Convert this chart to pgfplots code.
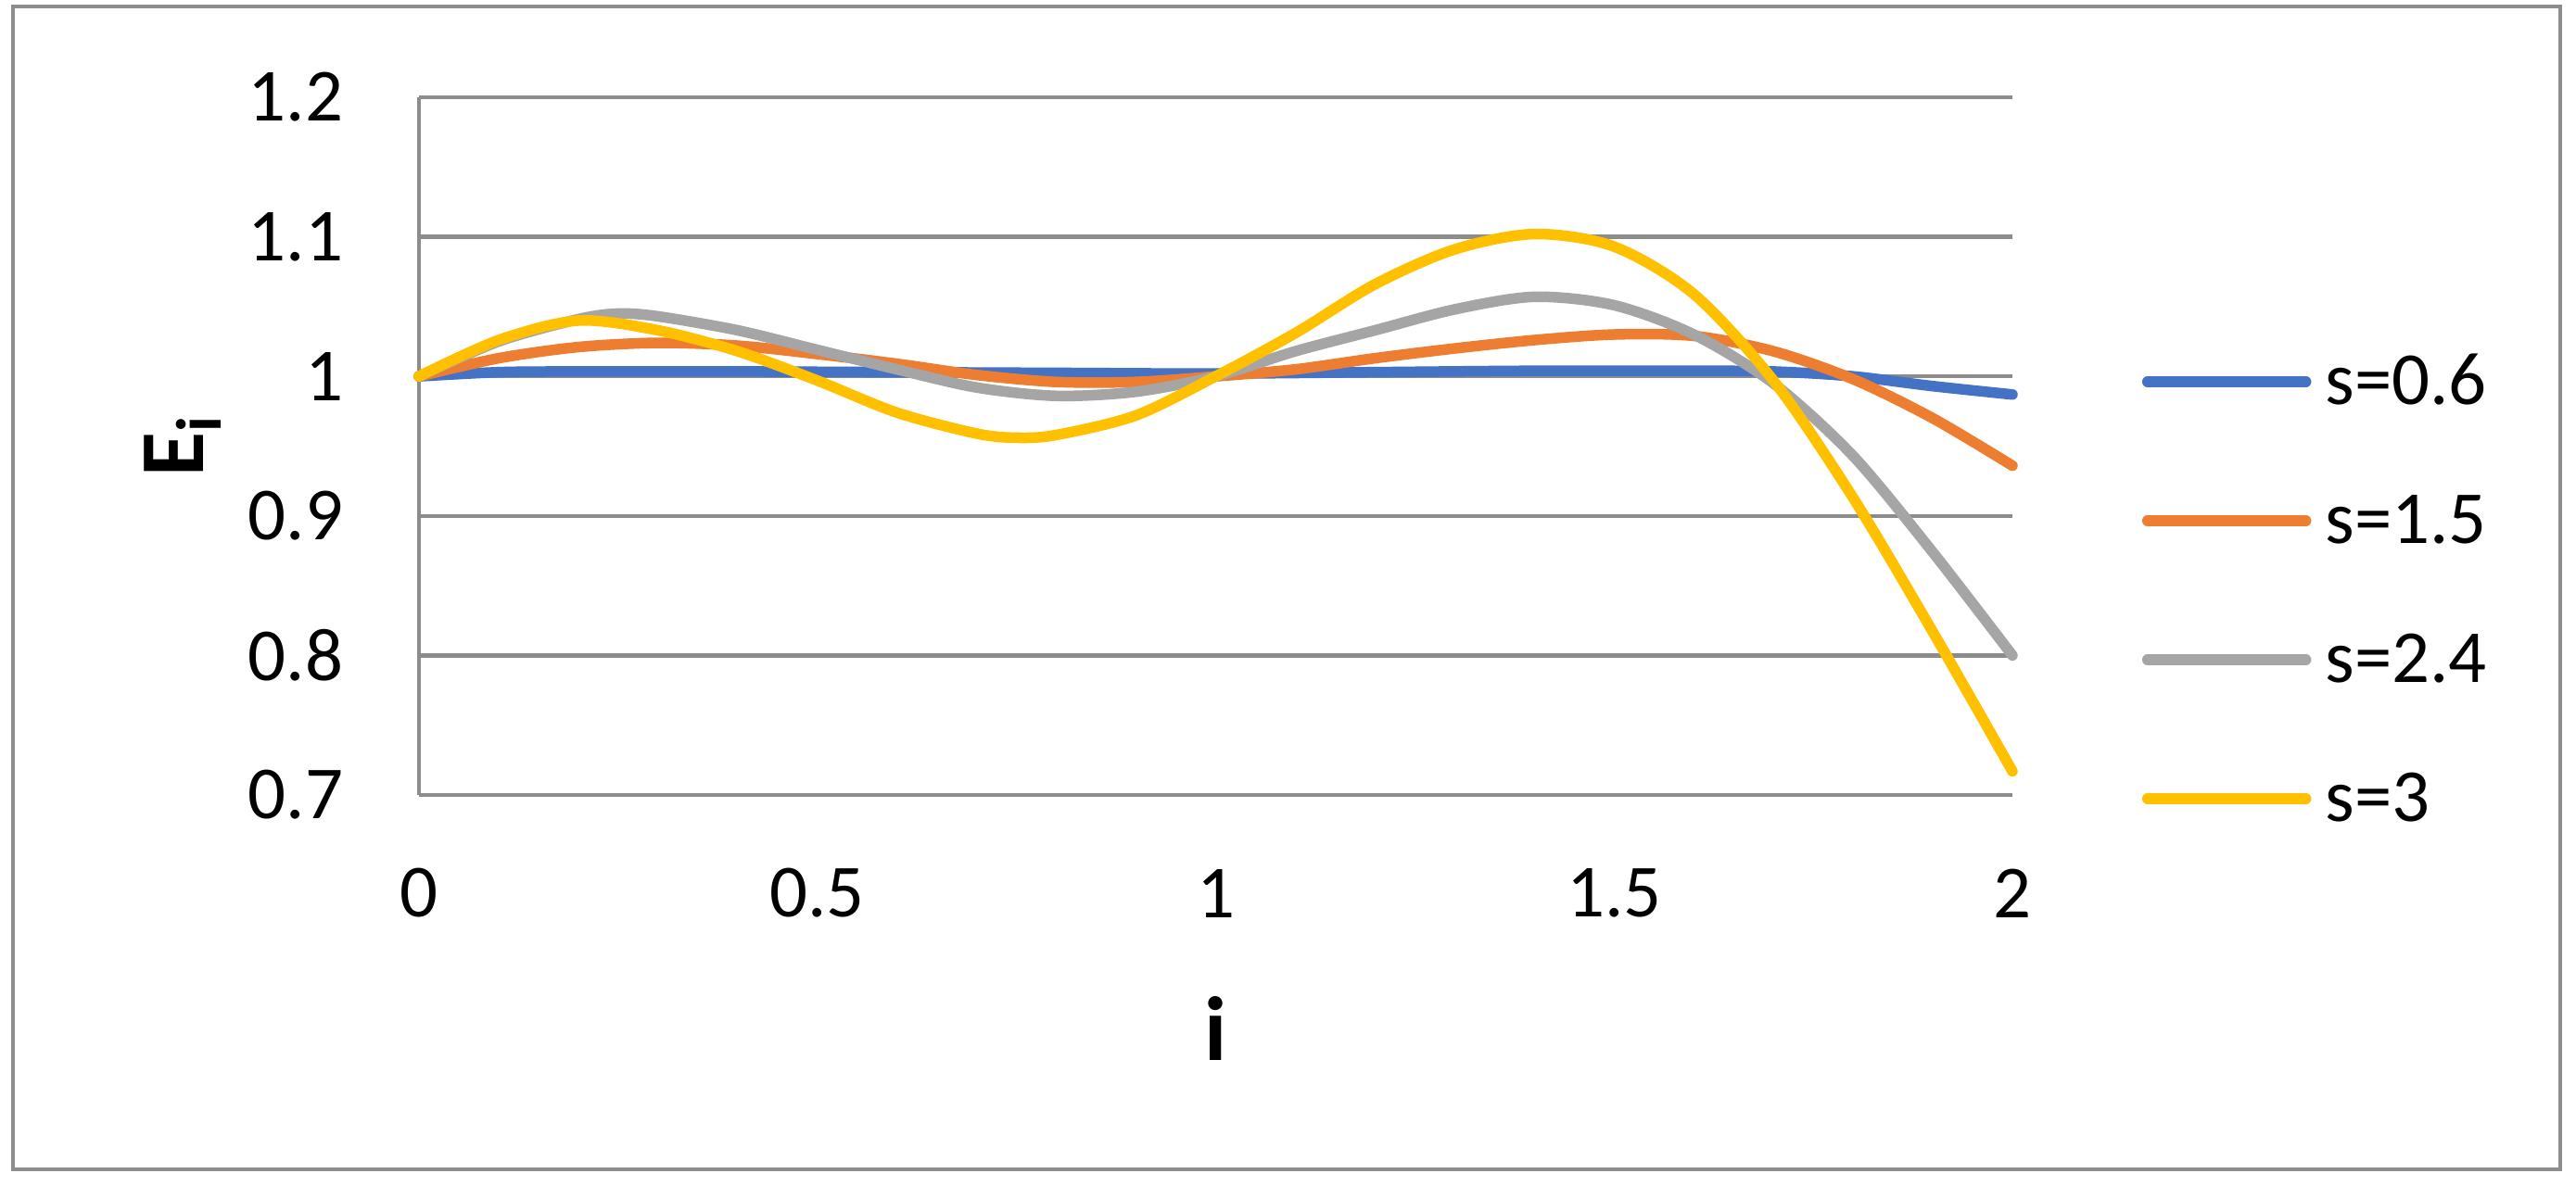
\documentclass[border=0pt]{standalone}
\usepackage{fontspec}
\setmainfont{Carlito}
\usepackage{pgfplots}
\pgfplotsset{compat=1.18}

\definecolor{cBlue}{HTML}{4472C4}
\definecolor{cOrange}{HTML}{ED7D31}
\definecolor{cGray}{HTML}{A5A5A5}
\definecolor{cYellow}{HTML}{FFC000}
\definecolor{gridgray}{HTML}{8C8C8C}

\begin{document}
\begin{tikzpicture}
\begin{axis}[
    name=ax,
    scale only axis,
    width=17.19cm, height=7.53cm,
    xmin=0, xmax=2, ymin=0.7, ymax=1.2,
    xtick={0,0.5,1,1.5,2},
    ytick={0.7,0.8,0.9,1,1.1,1.2},
    major tick length=0pt,
    ymajorgrids,
    grid style={gridgray, line width=0.045cm},
    axis x line*=bottom, axis y line*=left,
    axis line style={gridgray, line width=0.045cm, -},
    /pgf/number format/assume math mode=true,
    tick label style={font=\fontsize{23}{27}\selectfont, inner sep=0pt},
    yticklabel style={anchor=east, xshift=-0.81cm},
    xticklabel style={anchor=center, yshift=-1.06cm},
    xlabel={\textbf{i}},
    ylabel={\textbf{E\textsubscript{i}}},
    every axis x label/.style={at={(axis description cs:0.5,-0.3347)}, anchor=center,
        font=\fontsize{28}{33}\selectfont},
    every axis y label/.style={at={(axis description cs:-0.1483,0.5)}, rotate=90, anchor=center,
        font=\fontsize{28}{33}\selectfont},
    clip=false,
    every axis plot/.append style={line width=0.115cm, line cap=round, line join=round, smooth},
    legend cell align=left,
    legend image code/.code={\draw[#1, line width=0.115cm, line cap=round] (0cm,0cm) -- (1.71cm,0cm);},
    legend style={draw=none, fill=none, inner sep=0pt, outer sep=0pt,
        at={(axis description cs:1.0814,0.6388)}, anchor=north west,
        column sep=0.15cm, row sep=0.8cm,
        font=\fontsize{23}{27}\selectfont,
        nodes={inner sep=0pt, text height=0.6cm, text depth=0.1cm}},
]
\addplot[cBlue] coordinates {
    (0,1.000) (0.1,1.003) (0.2,1.0035) (0.4,1.0035) (0.6,1.003) (0.8,1.0025)
    (1.0,1.002) (1.2,1.003) (1.4,1.004) (1.6,1.004) (1.7,1.0035) (1.8,1.000)
    (1.9,0.993) (2.0,0.987)
};
\addlegendentry{s=0.6}
\addplot[cOrange] coordinates {
    (0,1.000) (0.1,1.013) (0.2,1.021) (0.3,1.024) (0.4,1.022) (0.5,1.016)
    (0.6,1.009) (0.7,1.001) (0.8,0.996) (0.9,0.996) (1.0,1.000) (1.1,1.005)
    (1.2,1.013) (1.3,1.020) (1.4,1.026) (1.5,1.030) (1.6,1.029) (1.7,1.018)
    (1.8,0.998) (1.9,0.970) (2.0,0.936)
};
\addlegendentry{s=1.5}
\addplot[cGray] coordinates {
    (0,1.000) (0.1,1.025) (0.2,1.041) (0.25,1.045) (0.3,1.043) (0.4,1.033)
    (0.5,1.019) (0.6,1.005) (0.7,0.992) (0.8,0.986) (0.9,0.989) (1.0,1.000)
    (1.1,1.018) (1.2,1.033) (1.3,1.048) (1.4,1.057) (1.5,1.051) (1.6,1.030)
    (1.7,0.995) (1.8,0.943) (1.9,0.874) (2.0,0.800)
};
\addlegendentry{s=2.4}
\addplot[cYellow] coordinates {
    (0,1.000) (0.1,1.026) (0.2,1.040) (0.3,1.033) (0.4,1.018) (0.5,0.997)
    (0.6,0.974) (0.7,0.959) (0.75,0.956) (0.8,0.958) (0.9,0.972) (1.0,1.000)
    (1.1,1.031) (1.2,1.066) (1.3,1.091) (1.4,1.102) (1.5,1.093) (1.6,1.059)
    (1.7,0.997) (1.8,0.913) (1.9,0.817) (2.0,0.717)
};
\addlegendentry{s=3}
\end{axis}
\draw[gridgray, line width=0.04cm]
    ([xshift=-4.38cm,yshift=-4.04cm]ax.south west) rectangle ([xshift=5.91cm,yshift=0.98cm]ax.north east);
\pgfresetboundingbox
\useasboundingbox ([xshift=-4.52cm,yshift=-4.22cm]ax.south west) rectangle ([xshift=6.08cm,yshift=1.05cm]ax.north east);
\end{tikzpicture}
\end{document}
